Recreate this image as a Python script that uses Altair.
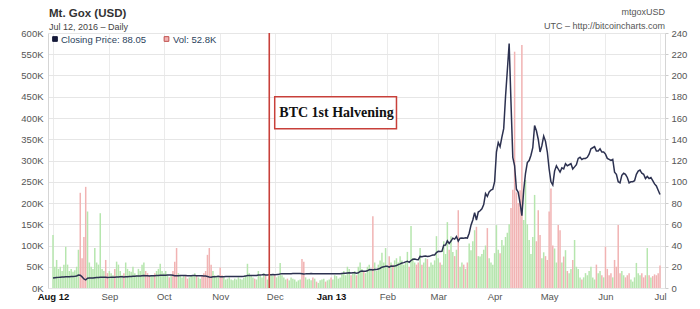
import altair as alt
import pandas as pd

# ---- data: Mt.Gox daily closing price (USD) and volume (thousand BTC), Aug 1 2012 .. Jul 1 2013
price_aug = [9.4, 9.6, 9.8, 10.0, 10.2, 10.3, 10.4, 10.5, 10.6, 10.7, 10.8, 10.9, 11.0, 11.3, 12.2, 12.0, 10.5, 8.5, 7.6, 9.2, 9.3, 9.3, 9.4, 9.6, 9.8, 9.9, 10.1, 10.2, 10.2, 10.1, 9.9]
price_sep = [10.0, 10.1, 10.2, 10.1, 10.3, 10.4, 10.5, 10.5, 10.4, 10.6, 10.7, 10.8, 10.9, 11.0, 11.1, 11.2, 11.2, 11.3, 11.6, 11.7, 11.6, 11.5, 11.4, 11.5, 11.6, 11.5, 11.7, 11.8, 11.9, 11.9]
price_oct = [12.0, 12.1, 12.3, 12.2, 12.2, 11.9, 11.6, 11.5, 11.6, 11.7, 11.8, 11.8, 11.7, 11.6, 11.6, 11.6, 11.7, 11.7, 11.6, 11.6, 11.6, 11.5, 11.4, 11.2, 10.8, 10.4, 10.1, 10.5, 10.7, 10.8, 11.0]
price_nov = [10.6, 10.5, 10.6, 10.8, 10.8, 10.9, 10.9, 10.9, 10.9, 10.9, 10.9, 10.9, 10.9, 11.0, 11.2, 11.8, 11.8, 11.8, 11.8, 11.7, 11.7, 12.3, 12.3, 12.4, 12.6, 12.2, 12.3, 12.4, 12.4, 12.6]
price_dec = [12.5, 12.6, 12.8, 13.3, 13.4, 13.4, 13.5, 13.4, 13.4, 13.5, 13.6, 13.6, 13.6, 13.6, 13.6, 13.4, 13.2, 13.3, 13.5, 13.5, 13.6, 13.4, 13.4, 13.3, 13.4, 13.4, 13.4, 13.5, 13.4, 13.4, 13.5]
price_jan = [13.3, 13.3, 13.4, 13.4, 13.4, 13.4, 13.6, 13.8, 13.8, 14.2, 14.4, 14.2, 14.3, 14.4, 14.0, 14.3, 15.6, 16.0, 15.8, 15.8, 16.2, 17.2, 17.4, 16.9, 17.4, 17.5, 17.8, 18.6, 19.6, 19.9, 20.4]
price_feb = [20.5, 19.7, 20.6, 20.4, 20.6, 21.2, 22.0, 22.7, 23.5, 23.9, 24.6, 25.2, 24.2, 25.9, 27.0, 27.2, 26.9, 26.7, 29.7, 29.4, 29.9, 30.2, 29.7, 29.8, 30.5, 31.0, 31.1, 33.4]
price_mar = [34.5, 34.3, 34.5, 40.3, 40.4, 44.4, 42.0, 44.2, 46.9, 46.0, 48.4, 44.2, 46.9, 47.0, 46.9, 47.2, 47.0, 51.6, 59.1, 64.0, 70.9, 64.0, 71.5, 72.7, 74.6, 78.5, 88.9, 86.2, 90.5, 92.2, 93.0]
price_apr = [100, 128, 137, 133, 142, 150, 180, 205, 230, 175, 123, 115, 93, 90, 80, 68, 92, 108, 118, 120, 125, 132, 153, 148, 140, 128, 134, 143, 138, 128]
price_may = [112, 100, 97, 110, 115, 112, 109, 113, 112, 117, 115, 116, 117, 112, 114, 116, 122, 123, 121, 122, 122, 123, 126, 131, 132, 133, 129, 129, 131, 128, 128]
price_jun = [126, 122, 121, 120, 121, 109, 107, 100, 99, 106, 108, 107, 104, 99, 100, 100, 101, 107, 110, 111, 108, 107, 103, 105, 103, 104, 101, 98, 96, 92]
price_jul = [88.05]

vol_aug = [125, 50, 66, 45, 50, 40, 55, 97, 55, 40, 45, 38, 42, 50, 90, 224, 70, 120, 238, 180, 60, 50, 45, 94, 60, 55, 176, 45, 40, 66, 35]
vol_sep = [40, 35, 30, 45, 62, 55, 40, 30, 35, 60, 45, 40, 38, 50, 35, 30, 45, 40, 55, 60, 40, 35, 30, 28, 30, 35, 40, 45, 57, 40]
vol_oct = [35, 40, 30, 25, 28, 40, 62, 94, 35, 30, 25, 28, 30, 22, 25, 30, 28, 35, 30, 25, 22, 30, 35, 40, 78, 94, 55, 40, 30, 28, 25]
vol_nov = [48, 30, 25, 20, 22, 25, 20, 18, 22, 20, 25, 22, 20, 25, 30, 57, 35, 30, 25, 22, 20, 40, 30, 25, 35, 30, 20, 25, 30, 28]
vol_dec = [30, 25, 28, 59, 30, 25, 20, 22, 18, 25, 22, 20, 15, 18, 20, 68, 62, 25, 20, 22, 18, 25, 22, 15, 12, 18, 20, 22, 15, 18, 20]
vol_jan = [25, 20, 30, 28, 22, 25, 35, 40, 30, 50, 45, 30, 35, 40, 30, 50, 60, 45, 40, 35, 50, 55, 45, 169, 60, 40, 55, 65, 83, 60, 94]
vol_feb = [50, 75, 60, 55, 65, 70, 60, 75, 65, 55, 60, 85, 50, 146, 70, 60, 55, 60, 94, 55, 60, 70, 68, 50, 60, 55, 65, 122]
vol_mar = [70, 60, 55, 110, 80, 155, 90, 122, 85, 75, 90, 183, 50, 60, 55, 45, 60, 105, 89, 110, 136, 144, 75, 74, 80, 90, 100, 141, 70, 60, 55]
vol_apr = [82, 148, 90, 82, 113, 100, 120, 130, 150, 188, 231, 556, 225, 200, 230, 572, 160, 254, 150, 113, 80, 120, 219, 110, 183, 125, 70, 84, 75, 66]
vol_may = [180, 234, 100, 93, 60, 148, 136, 60, 74, 89, 40, 35, 45, 66, 113, 50, 45, 25, 20, 25, 35, 30, 40, 50, 25, 20, 55, 35, 40, 30, 25]
vol_jun = [97, 45, 30, 35, 25, 66, 50, 148, 35, 40, 30, 25, 30, 35, 20, 15, 25, 59, 35, 30, 35, 25, 30, 94, 30, 25, 28, 32, 30, 35]
vol_jul = [52.8]

month_ticks = [(2012, 8), (2012, 9), (2012, 10), (2012, 11), (2012, 12), (2013, 1), (2013, 2),
               (2013, 3), (2013, 4), (2013, 5), (2013, 6), (2013, 7)]
halving_date = ["2012-11-28"]
note_text = "BTC 1st Halvening"
note_start, note_end, note_mid = "2012-12-01", "2013-02-06", "2013-01-04"
note_top, note_bottom, note_center = 180, 150, 164.5
vol_ticks = list(range(0, 601, 50))
price_ticks = list(range(0, 241, 20))

price = (price_aug + price_sep + price_oct + price_nov + price_dec + price_jan + price_feb +
         price_mar + price_apr + price_may + price_jun + price_jul)
vol = (vol_aug + vol_sep + vol_oct + vol_nov + vol_dec + vol_jan + vol_feb +
       vol_mar + vol_apr + vol_may + vol_jun + vol_jul)
assert len(price) == len(vol) == 335

dates = pd.date_range("2012-08-01", periods=len(price), freq="D").strftime("%Y-%m-%d").tolist()
direction = ["up"] + ["up" if price[i] >= price[i - 1] else "down" for i in range(1, len(price))]
df = pd.DataFrame({"date": dates, "price": price, "vol": vol, "dir": direction})

FONT = "Liberation Sans"
GREEN, RED, NAVY, HALV = "#b6e6ae", "#f1b3b3", "#2c3150", "#c8403a"

xscale = alt.Scale(type="utc",
                   domain=[alt.DateTime(year=2012, month=8, date=1, utc=True),
                           alt.DateTime(year=2013, month=7, date=1, utc=True)])
xvals = [alt.DateTime(year=y, month=m, date=1, utc=True) for y, m in month_ticks]
bold_test = "utcmonth(datum.value) == 0 || (utcmonth(datum.value) == 7 && utcyear(datum.value) == 2012)"
xaxis = alt.Axis(
    values=xvals, title=None, grid=True, gridColor="#ebebeb", domain=False, ticks=False,
    labelPadding=3, labelFont=FONT, labelFontSize=9.5, labelFlush=False, labelOverlap=False,
    labelExpr="utcFormat(datum.value, '%b') + ((" + bold_test + ") ? ' ' + utcFormat(datum.value, '%y') : '')",
    labelFontWeight={"condition": {"test": bold_test, "value": "bold"}, "value": "normal"},
    labelColor={"condition": {"test": bold_test, "value": "#111111"}, "value": "#555555"},
)
X = alt.X("date:T", scale=xscale, axis=xaxis)

bars = alt.Chart(df).mark_bar(width=1.5).encode(
    x=X,
    y=alt.Y("vol:Q", scale=alt.Scale(domain=[0, 600], nice=False),
            axis=alt.Axis(values=vol_ticks, title=None, orient="left", labelExpr="datum.value + 'K'",
                          grid=True, gridColor="#e6e6e6", domainColor="#d5d5d5", ticks=False,
                          labelOverlap=False, labelPadding=5, labelFont=FONT, labelFontSize=9.5,
                          labelColor="#555555")),
    color=alt.Color("dir:N", scale=alt.Scale(domain=["up", "down"], range=[GREEN, RED]), legend=None),
)

PY = alt.Scale(domain=[0, 240], nice=False)
PAXIS = alt.Axis(values=price_ticks, title=None, orient="right", grid=False, tickCount=13,
                 domainColor="#d5d5d5", tickColor="#cccccc", tickSize=3, labelPadding=3,
                 labelOverlap=False, labelFont=FONT, labelFontSize=9.5, labelColor="#555555")

line = alt.Chart(df).mark_line(color=NAVY, strokeWidth=1.5).encode(
    x=X,
    y=alt.Y("price:Q", scale=PY, axis=PAXIS),
)

halv = alt.Chart(pd.DataFrame({"date": halving_date})).mark_rule(color=HALV, strokeWidth=1.6).encode(
    x=alt.X("date:T", scale=xscale, axis=xaxis)
)

note_df = pd.DataFrame({"start": [note_start], "end": [note_end], "mid": [note_mid],
                        "top": [note_top], "bottom": [note_bottom], "center": [note_center],
                        "label": [note_text]})
box = alt.Chart(note_df).mark_rect(fill="white", stroke=HALV, strokeWidth=1.5).encode(
    x=alt.X("start:T", scale=xscale, axis=xaxis), x2="end:T",
    y=alt.Y("top:Q", scale=PY, axis=PAXIS), y2="bottom:Q",
)
note = alt.Chart(note_df).mark_text(font="Liberation Serif", fontSize=14, fontWeight="bold",
                                    color="#111111", align="center", baseline="middle").encode(
    x=alt.X("mid:T", scale=xscale, axis=xaxis), y=alt.Y("center:Q", scale=PY, axis=PAXIS),
    text="label:N",
)

one = alt.Data(values=[{}])


def label(txt, x, y, align="left", size=9, weight="normal", color="#555555"):
    return alt.Chart(one).mark_text(align=align, baseline="alphabetic", font=FONT, fontSize=size,
                                    fontWeight=weight, color=color).encode(
        x=alt.value(x), y=alt.value(y), text=alt.value(txt))


def swatch(x, y, fill, stroke):
    return alt.Chart(one).mark_square(size=22, filled=True, color=fill, stroke=stroke,
                                      strokeWidth=1, opacity=1).encode(x=alt.value(x), y=alt.value(y))


headers = [
    label("Mt. Gox (USD)", 1, -16, size=11.5, weight="bold", color="#333333"),
    label("Jul 12, 2016 \u2013 Daily", 1, -3.5, size=9, color="#444444"),
    label("mtgoxUSD", 617, -18, align="right", size=9, color="#555555"),
    label("UTC \u2013 http://bitcoincharts.com", 617, -4, align="right", size=9, color="#555555"),
    swatch(7, 6, "#151a3a", "#151a3a"),
    label(f"Closing Price: {price[-1]:.2f}", 13, 9.5, size=9.5, color="#2b3f5c"),
    swatch(118.5, 6, RED, "#c0504d"),
    label(f"Vol: {vol[-1]}K", 125, 9.5, size=9.5, color="#2b3f5c"),
]

price_layer = alt.layer(line, halv, box, note, *headers)

chart = alt.layer(bars, price_layer).resolve_scale(y="independent", color="independent").properties(
    width=617, height=255,
    autosize=alt.AutoSizeParams(type="none"),
    padding={"left": 48, "right": 35, "top": 33, "bottom": 21},
).configure_view(stroke=None)

chart.save("out.html", embed_options={"renderer": "svg", "actions": False})
